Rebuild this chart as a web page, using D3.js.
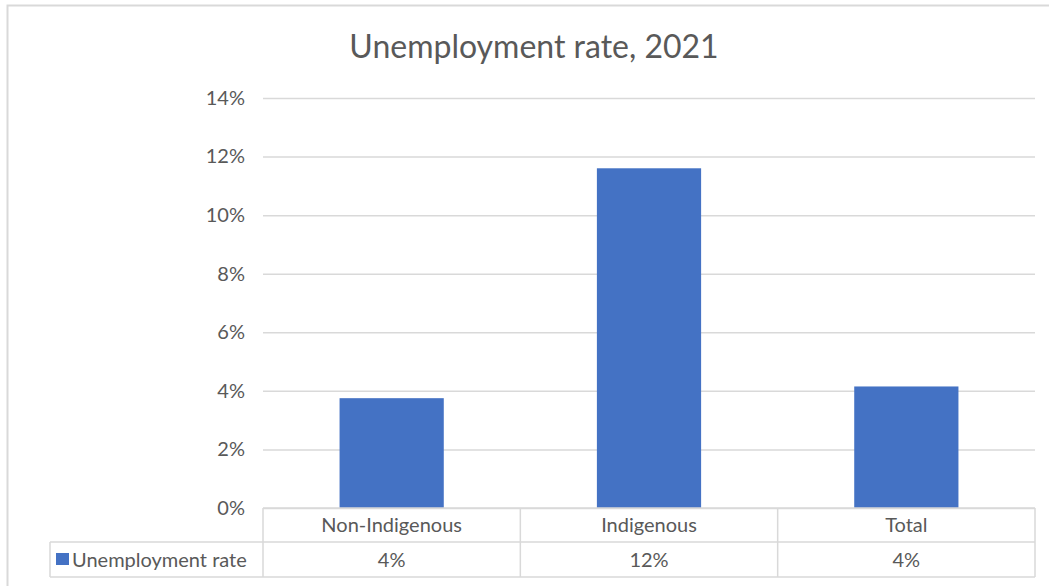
<!DOCTYPE html>
<html>
<head>
<meta charset="utf-8">
<script src="https://cdn.jsdelivr.net/npm/d3@7"></script>
<style>
  html, body { margin: 0; padding: 0; background: #fff; }
  svg { display: block; font-family: Lato, "Liberation Sans", sans-serif; }
</style>
</head>
<body>
<svg id="chart" width="1049" height="586"></svg>
<script>
// Unemployment rate by population group, 2021 (fractions)
const categories = ["Non-Indigenous", "Indigenous", "Total"];
const seriesName = "Unemployment rate";
const rates = [0.0375, 0.116, 0.0415];
const yTicks = [0, 0.02, 0.04, 0.06, 0.08, 0.10, 0.12, 0.14];

const svg = d3.select("#chart");
const W = 1049, H = 586;
const plot = { left: 263, right: 1035, top: 98, bottom: 508 };
const textColor = "#595959";
const gridColor = "#d9d9d9";
const barColor = "#4472C4";
const labelSize = 20;

// Chart area frame
svg.append("rect")
  .attr("x", 7.5).attr("y", 5.5)
  .attr("width", W).attr("height", H)
  .attr("fill", "#fff")
  .attr("stroke", "#d9d9d9").attr("stroke-width", 2);

// Title
svg.append("text")
  .attr("x", 534).attr("y", 58)
  .attr("text-anchor", "middle")
  .attr("font-size", 32)
  .attr("fill", textColor)
  .text("Unemployment rate, 2021");

const x = d3.scaleBand()
  .domain(categories)
  .range([plot.left, plot.right])
  .paddingInner(0).paddingOuter(0);

const y = d3.scaleLinear()
  .domain([0, 0.14])
  .range([plot.bottom, plot.top]);

// Horizontal gridlines + y labels via axis
const yAxis = d3.axisLeft(y)
  .tickValues(yTicks)
  .tickFormat(d3.format(".0%"))
  .tickSize(-(plot.right - plot.left))
  .tickPadding(18);

const gy = svg.append("g")
  .attr("transform", `translate(${plot.left},0)`)
  .call(yAxis);
gy.select(".domain").remove();
gy.selectAll(".tick line").attr("stroke", gridColor).attr("stroke-width", 1.5);
gy.selectAll(".tick text")
  .attr("fill", textColor)
  .attr("font-size", labelSize)
  .attr("font-family", "Lato, 'Liberation Sans', sans-serif");

// Bars: about 40% of the band width, centred
const barW = x.bandwidth() * 0.405;
svg.append("g").selectAll("rect")
  .data(categories.map((c, i) => ({ c, v: rates[i] })))
  .join("rect")
  .attr("x", d => x(d.c) + (x.bandwidth() - barW) / 2)
  .attr("y", d => y(d.v))
  .attr("width", barW)
  .attr("height", d => y(0) - y(d.v))
  .attr("fill", barColor);

// Data table under the plot
const rowTop = plot.bottom, rowMid = 542, rowBot = 577, legendLeft = 50;
const tbl = svg.append("g")
  .attr("stroke", gridColor).attr("stroke-width", 1.5).attr("fill", "none");

// horizontal lines
tbl.append("line").attr("x1", plot.left).attr("x2", plot.right).attr("y1", rowTop).attr("y2", rowTop);
tbl.append("line").attr("x1", legendLeft).attr("x2", plot.right).attr("y1", rowMid).attr("y2", rowMid);
tbl.append("line").attr("x1", legendLeft).attr("x2", plot.right).attr("y1", rowBot).attr("y2", rowBot);
// vertical lines at band boundaries
const edges = categories.map(c => x(c)).concat([plot.right]);
tbl.selectAll("line.v")
  .data(edges)
  .join("line")
  .attr("class", "v")
  .attr("x1", d => d).attr("x2", d => d)
  .attr("y1", rowTop).attr("y2", rowBot);
tbl.append("line").attr("x1", legendLeft).attr("x2", legendLeft).attr("y1", rowMid).attr("y2", rowBot);

// Category labels
svg.append("g").selectAll("text")
  .data(categories)
  .join("text")
  .attr("x", d => x(d) + x.bandwidth() / 2)
  .attr("y", (rowTop + rowMid) / 2 + 7)
  .attr("text-anchor", "middle")
  .attr("font-size", labelSize)
  .attr("fill", textColor)
  .text(d => d);

// Value row
svg.append("g").selectAll("text")
  .data(categories.map((c, i) => ({ c, v: rates[i] })))
  .join("text")
  .attr("x", d => x(d.c) + x.bandwidth() / 2)
  .attr("y", (rowMid + rowBot) / 2 + 7)
  .attr("text-anchor", "middle")
  .attr("font-size", labelSize)
  .attr("fill", textColor)
  .text(d => d3.format(".0%")(d.v));

// Legend key in the table
svg.append("rect")
  .attr("x", 56).attr("y", 553)
  .attr("width", 13).attr("height", 12)
  .attr("fill", barColor);
svg.append("text")
  .attr("x", 72).attr("y", (rowMid + rowBot) / 2 + 7)
  .attr("font-size", labelSize)
  .attr("fill", textColor)
  .text(seriesName);
</script>
</body>
</html>
